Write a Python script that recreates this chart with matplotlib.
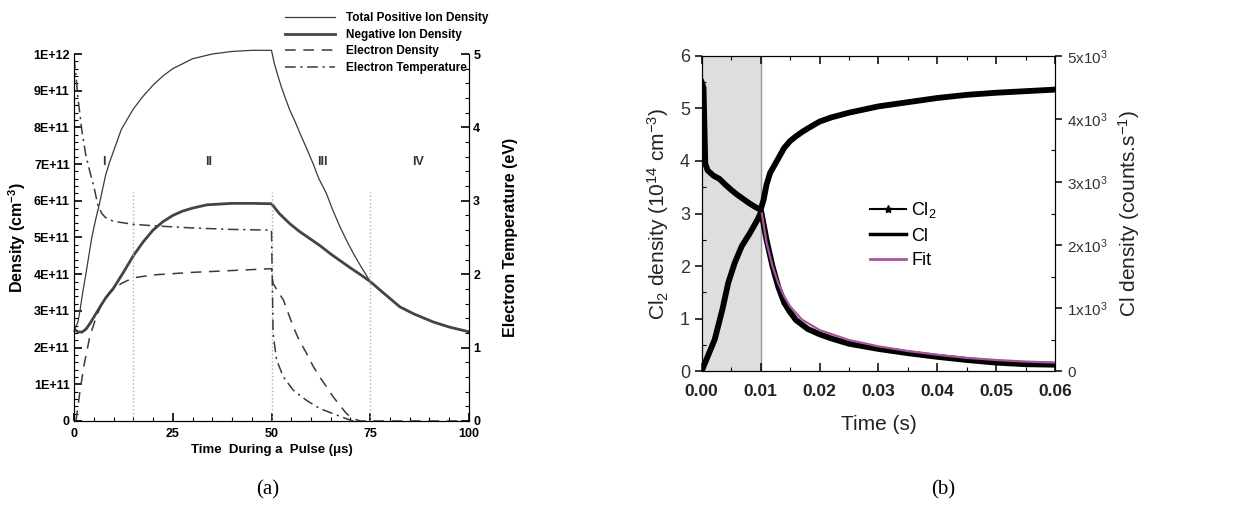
import numpy as np
import matplotlib
matplotlib.use("Agg")
import matplotlib.pyplot as plt
from matplotlib.lines import Line2D
from matplotlib.ticker import MultipleLocator, FixedLocator, FixedFormatter, FormatStrFormatter

plt.rcParams['font.family'] = ['Liberation Sans', 'DejaVu Sans']
plt.rcParams['mathtext.default'] = 'regular'

# ---------------- panel (a) data: pulsed plasma model ----------------
# total positive ion density (1e11 cm^-3)
t_pos = [0, 1, 1.5, 2.2, 3, 4.5, 5.5, 6.4, 7.2, 8, 9, 10, 12, 15, 17.5, 20, 22.5, 25, 30, 35, 40, 45, 50,
         50.7, 51.5, 52.5, 53.5, 54.6, 56, 57.2, 58.8, 60.5, 62, 63.9, 65.5, 67.3, 69, 70.7, 72.8, 75,
         78, 82.5, 86, 90.9, 95, 100]
n_pos = [2.45, 2.7, 3.0, 3.5, 4.0, 5.0, 5.5, 5.9, 6.3, 6.7, 7.05, 7.35, 7.95, 8.5, 8.85, 9.15, 9.4, 9.6, 9.87, 10.0,
         10.07, 10.1, 10.1,
         9.75, 9.45, 9.1, 8.8, 8.48, 8.15, 7.84, 7.45, 7.02, 6.6, 6.2, 5.75, 5.3, 4.92, 4.57, 4.18, 3.8,
         3.52, 3.11, 2.92, 2.7, 2.56, 2.43]

# negative ion density (1e11 cm^-3)
t_neg = [0, 1, 2, 3, 4, 5.7, 7, 8, 10, 12.5, 15, 17.5, 20, 22.5, 25, 27.5, 30, 33.6, 40, 45, 50,
         52, 54.6, 57, 59.7, 62.5, 65, 67.5, 70, 72.5, 75, 78, 82.5, 86, 90.9, 95, 100]
n_neg = [2.5, 2.43, 2.42, 2.5, 2.65, 2.95, 3.18, 3.35, 3.62, 4.05, 4.5, 4.88, 5.2, 5.43, 5.6, 5.72, 5.8, 5.89,
         5.93, 5.93, 5.92,
         5.65, 5.38, 5.17, 4.97, 4.76, 4.55, 4.36, 4.17, 3.99, 3.8, 3.52, 3.11, 2.92, 2.7, 2.56, 2.43]

# electron density (1e11 cm^-3)
t_el = [0.5, 1.5, 2.5, 4, 5.5, 7, 9, 12, 15, 20, 30, 40, 50,
        50.4, 51.5, 53, 55.5, 57, 58.9, 60.5, 62.2, 64, 65.6, 67.5, 69, 70.7, 72.5, 75, 100]
n_el = [0.0, 0.8, 1.5, 2.3, 2.8, 3.2, 3.5, 3.75, 3.9, 3.98, 4.05, 4.1, 4.15,
        3.75, 3.55, 3.3, 2.57, 2.2, 1.84, 1.5, 1.2, 0.92, 0.66, 0.4, 0.2, 0.06, 0.0, 0.0, 0.0]

# electron temperature (eV)
t_te = [0, 0.5, 1, 2, 3, 4, 5, 6, 7, 8, 10, 15, 20, 30, 40, 50,
        50.4, 51.3, 53, 55.5, 58.9, 62.2, 65.6, 69, 70.7]
te = [4.95, 4.7, 4.4, 3.95, 3.62, 3.4, 3.2, 2.95, 2.83, 2.77, 2.72, 2.68, 2.66, 2.63, 2.61, 2.6,
      1.19, 0.83, 0.6, 0.42, 0.28, 0.17, 0.1, 0.03, 0.0]

region_bounds = [15, 50, 75]
region_names = ['I', 'II', 'III', 'IV']
region_label_t = [7.5, 34, 63, 87]

# ---------------- panel (b) data: measured Cl2 / Cl ----------------
t_cl2 = [0.0, 0.0003, 0.0006, 0.001, 0.002, 0.003, 0.004, 0.005, 0.006, 0.007, 0.008, 0.009, 0.01,
         0.0105, 0.011, 0.0116, 0.012, 0.013, 0.014, 0.015, 0.016, 0.017, 0.018, 0.02, 0.022,
         0.025, 0.03, 0.035, 0.04, 0.045, 0.05, 0.055, 0.06]
cl2 = [5.5, 5.4, 3.95, 3.82, 3.72, 3.66, 3.55, 3.45, 3.36, 3.28, 3.2, 3.13, 3.07,
       3.26, 3.55, 3.77, 3.85, 4.05, 4.25, 4.38, 4.47, 4.55, 4.62, 4.75, 4.83,
       4.92, 5.04, 5.12, 5.2, 5.26, 5.3, 5.33, 5.36]

# Cl signal (counts/s)
t_cl = [0.0, 0.0001, 0.0008, 0.0022, 0.0035, 0.0045, 0.0056, 0.0068, 0.0082, 0.0095, 0.0101,
        0.011, 0.012, 0.013, 0.014, 0.015, 0.016, 0.018, 0.02, 0.022, 0.025, 0.03, 0.035,
        0.04, 0.045, 0.05, 0.055, 0.06]
cl = [0, 25, 183, 500, 975, 1400, 1717, 1983, 2192, 2408, 2530,
      2083, 1667, 1333, 1083, 933, 808, 667, 583, 517, 433, 350, 283,
      225, 175, 133, 108, 100]

t_fit = [0.0102, 0.011, 0.012, 0.013, 0.014, 0.015, 0.017, 0.02, 0.025, 0.03, 0.035,
         0.04, 0.045, 0.05, 0.055, 0.06]
cl_fit = [2500, 2040, 1667, 1390, 1183, 1025, 817, 650, 492, 392, 317, 258, 208, 175, 150, 133]

plasma_on = (0.0, 0.01)

fig = plt.figure(figsize=(12.46, 5.09), dpi=100)

# ================= (a) =================
ax = fig.add_axes([0.0594, 0.1729, 0.317, 0.721])
ax2 = ax.twinx()
sc = 1e11
ax.plot(t_pos, np.array(n_pos) * sc, color='#3a3a3a', lw=0.9, clip_on=False)
ax.plot(t_neg, np.array(n_neg) * sc, color='#444444', lw=2.0)
ax.plot(t_el, np.array(n_el) * sc, color='#3a3a3a', lw=1.1, ls=(0, (7, 5)))
ax2.plot(t_te, te, color='#3a3a3a', lw=1.1, ls=(0, (7, 3, 1.5, 3)))
ax.vlines(region_bounds, 0, 6.25e11, colors='#b0b0b0', lw=1.0, ls=':')
for lab, tx in zip(region_names, region_label_t):
    ax.text(tx, 7.05e11, lab, ha='center', va='center', fontsize=9, fontweight='bold', color='#333')

ax.set_xlim(0, 100)
ax.set_ylim(0, 1e12)
ax2.set_ylim(0, 5)
ax.xaxis.set_major_locator(MultipleLocator(25))
ax.xaxis.set_minor_locator(MultipleLocator(5))
ax.yaxis.set_major_locator(FixedLocator(np.arange(11) * 1e11))
ax.yaxis.set_minor_locator(MultipleLocator(2e10))
ax.yaxis.set_major_formatter(FixedFormatter(['0'] + ['%dE+11' % i for i in range(1, 10)] + ['1E+12']))
ax2.yaxis.set_major_locator(MultipleLocator(1))
ax2.yaxis.set_minor_locator(MultipleLocator(0.2))
for a in (ax, ax2):
    a.spines['top'].set_visible(False)
    a.tick_params(which='major', direction='in', length=6, width=1.2, labelsize=9, pad=3)
    a.tick_params(which='minor', direction='in', length=3, width=0.8)
ax.tick_params(axis='x', which='major', pad=5)
for lbl in ax.get_xticklabels() + ax.get_yticklabels() + ax2.get_yticklabels():
    lbl.set_fontweight('bold')
ax.set_xlabel(u'Time  During a  Pulse (\u03bcs)', fontsize=9.5, fontweight='bold', labelpad=3)
ax.set_ylabel('Density (cm$^{-3}$)', fontsize=11.5, fontweight='bold', labelpad=4)
ax2.set_ylabel('Electron Temperature (eV)', fontsize=11.5, fontweight='bold', labelpad=16)

leg_a = [Line2D([], [], color='#3a3a3a', lw=0.9),
         Line2D([], [], color='#444444', lw=2.0),
         Line2D([], [], color='#3a3a3a', lw=1.1, ls=(0, (7, 5))),
         Line2D([], [], color='#3a3a3a', lw=1.1, ls=(0, (7, 3, 1.5, 3)))]
ax.legend(leg_a, ['Total Positive Ion Density', 'Negative Ion Density', 'Electron Density',
                  'Electron Temperature'],
          loc='upper left', bbox_to_anchor=(0.52, 1.13), frameon=False,
          prop={'size': 8.5, 'weight': 'bold'}, handlelength=4.2, handletextpad=0.9,
          labelspacing=0.38, borderpad=0)

# ================= (b) =================
bx = fig.add_axes([0.5632, 0.2711, 0.2836, 0.6189])
bx2 = bx.twinx()
bx.axvspan(*plasma_on, color='#dedede', zorder=0)
bx.axvline(plasma_on[1], color='#9a9a9a', lw=1.0, zorder=1)
bx.plot(t_cl2, cl2, color='black', lw=4.2, solid_joinstyle='round')
bx2.plot(t_cl, cl, color='black', lw=4.2, solid_joinstyle='round')
bx2.plot(t_fit, cl_fit, color='#a7559f', lw=1.6)

bx.set_xlim(0, 0.06)
bx.set_ylim(0, 6)
bx2.set_ylim(0, 5000)
bx.xaxis.set_major_locator(MultipleLocator(0.01))
bx.xaxis.set_minor_locator(MultipleLocator(0.005))
bx.xaxis.set_major_formatter(FormatStrFormatter('%.2f'))
bx.yaxis.set_major_locator(MultipleLocator(1))
bx.yaxis.set_minor_locator(MultipleLocator(0.5))
bx2.yaxis.set_major_locator(FixedLocator([0, 1000, 2000, 3000, 4000, 5000]))
bx2.yaxis.set_major_formatter(FixedFormatter(['0'] + [r'%dx10$^3$' % i for i in range(1, 6)]))
bx2.yaxis.set_minor_locator(MultipleLocator(500))
bx.tick_params(axis='x', which='both', direction='in', top=True, labelsize=12.5, pad=9,
               labelcolor='#222')
bx.tick_params(axis='x', which='major', length=6, width=1.1)
bx.tick_params(axis='x', which='minor', length=3, width=0.8)
bx.tick_params(axis='y', which='major', direction='out', length=5, width=1.1, labelsize=13,
               labelcolor='#333')
bx.tick_params(axis='y', which='minor', direction='in', length=3, width=0.8)
bx2.tick_params(axis='y', which='major', direction='out', length=5, width=1.1, labelsize=11,
                labelcolor='#333')
bx2.tick_params(axis='y', which='minor', direction='in', length=3, width=0.8)
for lbl in bx.get_xticklabels():
    lbl.set_fontweight('bold')
bx.set_xlabel('Time (s)', fontsize=15, color='#222', labelpad=12)
bx.set_ylabel('Cl$_2$ density (10$^{14}$ cm$^{-3}$)', fontsize=15, color='#222', labelpad=6)
bx2.set_ylabel('Cl density (counts.s$^{-1}$)', fontsize=15, color='#222', labelpad=6)

leg_b = [Line2D([], [], color='black', lw=1.5, marker='*', markersize=6),
         Line2D([], [], color='black', lw=2.5),
         Line2D([], [], color='#a7559f', lw=2.0)]
bx.legend(leg_b, ['Cl$_2$', 'Cl', 'Fit'], loc='upper left', bbox_to_anchor=(0.45, 0.57),
          frameon=False, fontsize=13, handlelength=2.0, handletextpad=0.3, labelspacing=0.4,
          borderpad=0, numpoints=1)

fig.text(268 / 1246, 1 - 490 / 509, '(a)', ha='center', va='center', fontsize=15,
         family='Liberation Serif')
fig.text(943 / 1246, 1 - 490 / 509, '(b)', ha='center', va='center', fontsize=15,
         family='Liberation Serif')

fig.savefig('out.png', dpi=100)
